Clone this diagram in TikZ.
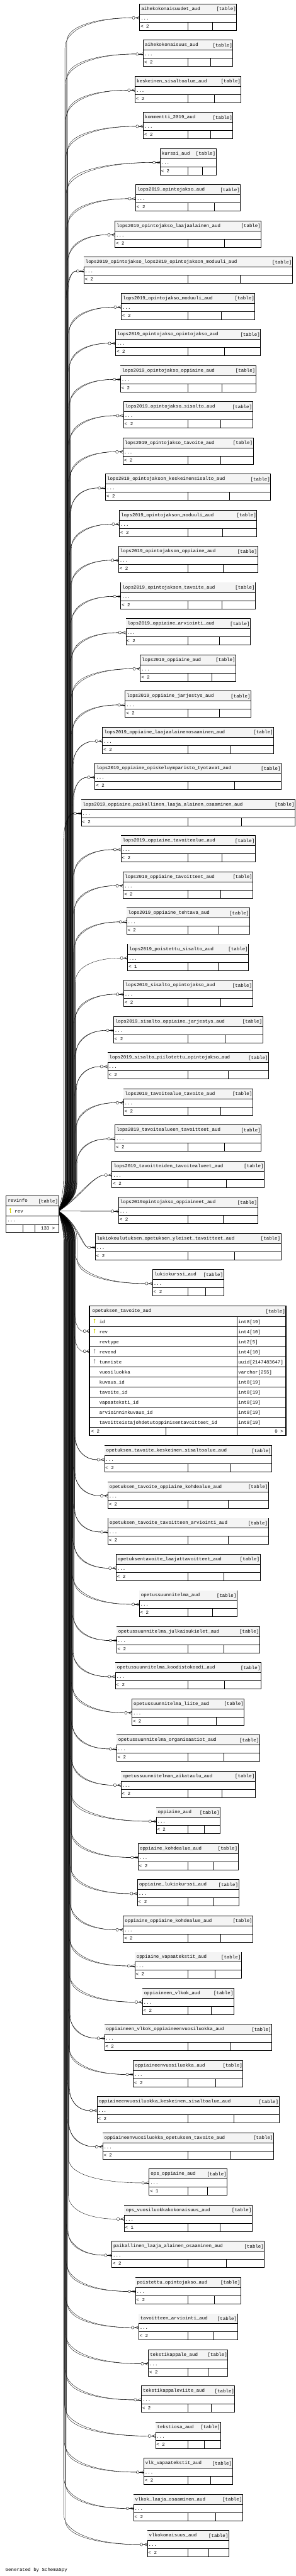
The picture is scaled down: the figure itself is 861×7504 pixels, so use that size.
\documentclass[tikz,border=0pt]{standalone}
\usepackage{fontspec}
\newfontfamily\tfont{Liberation Mono}
\usetikzlibrary{calc}
\definecolor{titlebg}{HTML}{F4F4F4}
\definecolor{keyyel}{HTML}{D4D400}
\definecolor{keygray}{HTML}{A0A0A0}
\tikzset{
 tbox/.style={draw=black,line width=1.1pt,fill=white,rectangle,inner sep=0pt,outer sep=0pt},
 tline/.style={draw=black,line width=0.9pt},
 ttext/.style={font=\tfont\fontsize{13.6}{16}\selectfont,inner sep=0pt,outer sep=0pt},
 fkline/.style={draw=black,line width=0.7pt},
}
\def\ry{3528}
\newcommand{\crowend}[3]{% #1 end coord, #2 port coord, #3 crow length
  \draw[fkline] (#1) -- (#2);
  \draw[fkline,fill=white] ($(#1)+(4,0)$) circle (4pt);
  \draw[fkline] ($(#2)+(-#3,0)$) -- ($(#2)+(0,-4.2)$) ($(#2)+(-#3,0)$) -- ($(#2)+(0,4.2)$);
}
\newcommand{\fkedge}[5]{% #1 end coord, #2 Tx, #3 Ty, #4 xv, #5 h2
  \pgfmathsetmacro{\fdd}{#3-\ry}%
  \pgfmathsetmacro{\fsg}{(\fdd<0) ? -1 : 1}%
  \pgfmathsetmacro{\fad}{abs(\fdd)}%
  \ifdim\fad pt<200pt
    \pgfmathsetmacro{\fcy}{\ry+0.3*\fdd}%
    \pgfmathsetmacro{\fcx}{#2-0.4*(#2-#4)}%
    \draw[fkline] (rec-p) .. controls (#4,\fcy) and (\fcx,#3) .. (#1);
  \else
    \pgfmathsetmacro{\fyp}{\ry+\fsg*35}%
    \pgfmathsetmacro{\fyq}{\ry+\fsg*55}%
    \pgfmathsetmacro{\fxp}{#4-6}%
    \pgfmathsetmacro{\fya}{\ry+\fsg*90}%
    \pgfmathsetmacro{\fyb}{#3-\fsg*#5}%
    \pgfmathsetmacro{\fyc}{#3-\fsg*#5*0.3}%
    \pgfmathsetmacro{\fcx}{#4+0.5*(#2-#4)}%
    \draw[fkline] (rec-p) .. controls (\fxp,\fyp) and (#4,\fyq) .. (#4,\fya) -- (#4,\fyb) .. controls (#4,\fyc) and (\fcx,#3) .. (#1);
  \fi
}
\newcommand{\keyicon}[3]{%
  \fill[#3] (#1,#2+2.8) circle (2.8pt);
  \fill[#3] (#1-0.9,#2+2.8) rectangle (#1+0.9,#2+14);
  \fill[#3] (#1,#2+10) rectangle (#1+2.4,#2+11.4);
}
\newcommand{\ctable}[5]{% name, top, half width, label, parents
  \pgfmathsetmacro{\xl}{547-#3}%
  \pgfmathsetmacro{\xr}{547+#3}%
  \pgfmathsetmacro{\xm}{547+#3/2}%
  \pgfmathsetmacro{\yt}{#2+28.6}%
  \pgfmathsetmacro{\yd}{#2+52.6}%
  \pgfmathsetmacro{\yf}{#2+76.7}%
  \pgfmathsetmacro{\yp}{#2+40.6}%
  \pgfmathsetmacro{\xe}{\xl-21.5}%
  \pgfmathsetmacro{\xva}{min(226-0.00923*min(abs(\yp-\ry),3900),\xe-25)}%
  \pgfmathsetmacro{\xvb}{\xva-5}%
  \coordinate (#1-p) at (\xl,\yp);
  \coordinate (#1-e) at (\xe,\yp);
  \fkedge{#1-e}{\xe}{\yp}{\xva}{70}%
  \ifnum#5=2 \fkedge{#1-e}{\xe}{\yp}{\xvb}{90}\fi
  \crowend{#1-e}{#1-p}{11}%
  \node[tbox,minimum width=2*#3,minimum height=76.7,anchor=north] (#1) at (547,#2) {};
  \fill[titlebg] (\xl+0.55,#2+0.55) rectangle (\xr-0.55,\yt);
  \draw[tline] (\xl,\yt) -- (\xr,\yt) (\xl,\yd) -- (\xr,\yd) (546,\yd) -- (546,\yf) (\xm,\yd) -- (\xm,\yf);
  \node[ttext,anchor=base west] (#1-n) at (\xl+5,#2+18) {#4};
  \node[ttext,anchor=base east] (#1-k) at (\xr-1.5,#2+19) {[table]};
  \node[ttext,anchor=base west] (#1-d) at (\xl+3,#2+45.7) {...};
  \node[ttext,anchor=base west] (#1-c) at (\xl+3,#2+69.4) {< #5};
}
\begin{document}
\begin{tikzpicture}[x=1pt,y=-1pt]
\useasboundingbox (0,0) rectangle (861,7504);
\fill[white] (0,0) rectangle (861,7504);
\coordinate (rec-p) at (170.3,\ry);
% edges to expanded table
\coordinate (ota-rev-p) at (258,3877.6);
\coordinate (ota-rev-e) at (242,3877.6);
\coordinate (ota-revend-p) at (258,3936.3);
\coordinate (ota-revend-e) at (242,3936.3);
\fkedge{ota-rev-e}{242}{3877.6}{217}{60}
\fkedge{ota-revend-e}{242}{3936.3}{214}{80}
\crowend{ota-rev-e}{ota-rev-p}{7}
\crowend{ota-revend-e}{ota-revend-p}{7}
% collapsed tables
\ctable{t0}{11.4}{141.0}{aihekokonaisuudet\_aud}{2}
\ctable{t1}{116.7}{130.3}{aihekokonaisuus\_aud}{2}
\ctable{t2}{222.1}{154.2}{keskeinen\_sisaltoalue\_aud}{2}
\ctable{t3}{327.4}{130.3}{kommentti\_2019\_aud}{2}
\ctable{t4}{432.8}{81.3}{kurssi\_aud}{2}
\ctable{t5}{538.1}{152.2}{lops2019\_opintojakso\_aud}{2}
\ctable{t6}{643.4}{212.7}{lops2019\_opintojakso\_laajaalainen\_aud}{2}
\ctable{t7}{748.8}{303.2}{lops2019\_opintojakso\_lops2019\_opintojakson\_moduuli\_aud}{2}
\ctable{t8}{854.1}{194.2}{lops2019\_opintojakso\_moduuli\_aud}{2}
\ctable{t9}{959.5}{210.6}{lops2019\_opintojakso\_opintojakso\_aud}{2}
\ctable{t10}{1064.8}{196.8}{lops2019\_opintojakso\_oppiaine\_aud}{2}
\ctable{t11}{1170.1}{187.5}{lops2019\_opintojakso\_sisalto\_aud}{2}
\ctable{t12}{1275.5}{189.2}{lops2019\_opintojakso\_tavoite\_aud}{2}
\ctable{t13}{1380.8}{240.2}{lops2019\_opintojakson\_keskeinensisalto\_aud}{2}
\ctable{t14}{1486.2}{199.8}{lops2019\_opintojakson\_moduuli\_aud}{2}
\ctable{t15}{1591.5}{202.2}{lops2019\_opintojakson\_oppiaine\_aud}{2}
\ctable{t16}{1696.8}{195.8}{lops2019\_opintojakson\_tavoite\_aud}{2}
\ctable{t17}{1802.2}{180.9}{lops2019\_oppiaine\_arviointi\_aud}{2}
\ctable{t18}{1907.5}{139.0}{lops2019\_oppiaine\_aud}{2}
\ctable{t19}{2012.9}{182.9}{lops2019\_oppiaine\_jarjestys\_aud}{2}
\ctable{t20}{2118.2}{248.8}{lops2019\_oppiaine\_laajaalainenosaaminen\_aud}{2}
\ctable{t21}{2223.5}{270.9}{lops2019\_oppiaine\_opiskeluymparisto\_tyotavat\_aud}{2}
\ctable{t22}{2328.9}{311.0}{lops2019\_oppiaine\_paikallinen\_laaja\_alainen\_osaaminen\_aud}{2}
\ctable{t23}{2434.2}{195.2}{lops2019\_oppiaine\_tavoitealue\_aud}{2}
\ctable{t24}{2539.6}{188.6}{lops2019\_oppiaine\_tavoitteet\_aud}{2}
\ctable{t25}{2644.9}{178.9}{lops2019\_oppiaine\_tehtava\_aud}{2}
\ctable{t26}{2750.2}{175.7}{lops2019\_poistettu\_sisalto\_aud}{1}
\ctable{t27}{2855.6}{187.5}{lops2019\_sisalto\_opintojakso\_aud}{2}
\ctable{t28}{2960.9}{216.7}{lops2019\_sisalto\_oppiaine\_jarjestys\_aud}{2}
\ctable{t29}{3066.3}{233.9}{lops2019\_sisalto\_piilotettu\_opintojakso\_aud}{2}
\ctable{t30}{3171.6}{188.0}{lops2019\_tavoitealue\_tavoite\_aud}{2}
\ctable{t31}{3276.9}{212.7}{lops2019\_tavoitealueen\_tavoitteet\_aud}{2}
\ctable{t32}{3382.3}{221.3}{lops2019\_tavoitteiden\_tavoitealueet\_aud}{2}
\ctable{t33}{3487.6}{202.2}{lops2019opintojakso\_oppiaineet\_aud}{2}
\ctable{t34}{3593.0}{269.9}{lukiokoulutuksen\_opetuksen\_yleiset\_tavoitteet\_aud}{2}
\ctable{t35}{3698.3}{103.0}{lukiokurssi\_aud}{2}
\ctable{t37}{4211.4}{243.2}{opetuksen\_tavoite\_keskeinen\_sisaltoalue\_aud}{2}
\ctable{t38}{4316.7}{233.5}{opetuksen\_tavoite\_oppiaine\_kohdealue\_aud}{2}
\ctable{t39}{4422.1}{233.1}{opetuksen\_tavoite\_tavoitteen\_arviointi\_aud}{2}
\ctable{t40}{4527.4}{209.4}{opetuksentavoite\_laajattavoitteet\_aud}{2}
\ctable{t41}{4632.8}{142.0}{opetussuunnitelma\_aud}{2}
\ctable{t42}{4738.1}{208.0}{opetussuunnitelma\_julkaisukielet\_aud}{2}
\ctable{t43}{4843.4}{211.6}{opetussuunnitelma\_koodistokoodi\_aud}{2}
\ctable{t44}{4948.8}{163.3}{opetussuunnitelma\_liite\_aud}{2}
\ctable{t45}{5054.1}{208.0}{opetussuunnitelma\_organisaatiot\_aud}{2}
\ctable{t46}{5159.5}{195.2}{opetussuunnitelman\_aikataulu\_aud}{2}
\ctable{t47}{5264.8}{92.8}{oppiaine\_aud}{2}
\ctable{t48}{5370.1}{145.2}{oppiaine\_kohdealue\_aud}{2}
\ctable{t49}{5475.5}{147.0}{oppiaine\_lukiokurssi\_aud}{2}
\ctable{t50}{5580.8}{188.6}{oppiaine\_oppiaine\_kohdealue\_aud}{2}
\ctable{t51}{5686.2}{154.8}{oppiaine\_vapaatekstit\_aud}{2}
\ctable{t52}{5791.5}{132.9}{oppiaineen\_vlkok\_aud}{2}
\ctable{t53}{5896.8}{243.2}{oppiaineen\_vlkok\_oppiaineenvuosiluokka\_aud}{2}
\ctable{t54}{6002.2}{159.4}{oppiaineenvuosiluokka\_aud}{2}
\ctable{t55}{6107.5}{264.5}{oppiaineenvuosiluokka\_keskeinen\_sisaltoalue\_aud}{2}
\ctable{t56}{6212.9}{248.6}{oppiaineenvuosiluokka\_opetuksen\_tavoite\_aud}{2}
\ctable{t57}{6318.2}{113.5}{ops\_oppiaine\_aud}{1}
\ctable{t58}{6423.5}{185.9}{ops\_vuosiluokkakokonaisuus\_aud}{1}
\ctable{t59}{6528.9}{221.9}{paikallinen\_laaja\_alainen\_osaaminen\_aud}{2}
\ctable{t60}{6634.2}{153.2}{poistettu\_opintojakso\_aud}{2}
\ctable{t61}{6739.6}{143.6}{tavoitteen\_arviointi\_aud}{2}
\ctable{t62}{6844.9}{115.5}{tekstikappale\_aud}{2}
\ctable{t63}{6950.2}{135.9}{tekstikappaleviite\_aud}{2}
\ctable{t64}{7055.6}{94.8}{tekstiosa\_aud}{2}
\ctable{t65}{7160.9}{128.9}{vlk\_vapaatekstit\_aud}{2}
\ctable{t66}{7266.3}{158.6}{vlkok\_laaja\_osaaminen\_aud}{2}
\ctable{t67}{7371.6}{118.3}{vlkokonaisuus\_aud}{2}
% expanded table
\node[draw=black,line width=3.5pt,fill=white,minimum width=572.5,minimum height=377.4,anchor=north west,inner sep=0pt,outer sep=0pt,rectangle] (ota) at (259.75,3804.15) {};
\fill[titlebg] (261.5,3805.9) rectangle (830.5,3835.1);
\foreach \i in {0,...,11}{\draw[tline] (261.5,3835.1+29.32*\i) -- (830.5,3835.1+29.32*\i);}
\draw[tline] (689,3835.1) -- (689,4179.8);
\draw[tline] (482.3,4157.6) -- (482.3,4179.8);
\node[ttext,anchor=base west] (ota-n) at (268.7,3823) {opetuksen\_tavoite\_aud};
\node[ttext,anchor=base east] (ota-k) at (829.7,3824) {[table]};
\foreach \i/\cn/\ct/\kk in {0/id/int8[19]/1,1/rev/int4[10]/1,2/revtype/int2[5]/0,3/revend/int4[10]/2,4/tunniste/uuid[2147483647]/2,5/vuosiluokka/varchar[255]/0,6/kuvaus\_id/int8[19]/0,7/tavoite\_id/int8[19]/0,8/vapaateksti\_id/int8[19]/0,9/arvioinninkuvaus\_id/int8[19]/0,10/tavoitteistajohdetutoppimisentavoitteet\_id/int8[19]/0}{
  \pgfmathsetmacro{\rt}{3835.1+29.32*\i}
  \node[ttext,anchor=base west] (ota-c\i) at (289,\rt+19.5) {\cn};
  \node[ttext,anchor=base west] (ota-t\i) at (693.4,\rt+19.5) {\ct};
  \ifnum\kk=1 \keyicon{275}{\rt+6}{keyyel}\fi
  \ifnum\kk=2 \keyicon{275}{\rt+6}{keygray}\fi
}
\node[ttext,anchor=base west] (ota-f1) at (265,4174) {< 2};
\node[ttext,anchor=base east] (ota-f3) at (824,4174) {0 >};
% revinfo table
\node[tbox,minimum width=153,minimum height=106,anchor=north west] (rec) at (17.3,3484) {};
\fill[titlebg] (17.85,3484.55) rectangle (169.75,3512.6);
\draw[tline] (17.3,3512.6) -- (170.3,3512.6) (17.3,3542.5) -- (170.3,3542.5) (17.3,3566.6) -- (170.3,3566.6) (66.3,3566.6) -- (66.3,3590) (101.3,3566.6) -- (101.3,3590);
\node[ttext,anchor=base west] (rec-n) at (23,3502.5) {revinfo};
\node[ttext,anchor=base east] (rec-k) at (168.5,3504) {[table]};
\keyicon{30}{3519.5}{keyyel}
\node[ttext,anchor=base west] (rec-r) at (43,3533) {rev};
\node[ttext,anchor=base west] (rec-d) at (21,3558.4) {...};
\node[ttext,anchor=base east] (rec-c) at (160,3582.5) {133 >};
\node[ttext,anchor=base west] (gen) at (16,7490) {Generated by SchemaSpy};
\end{tikzpicture}
\end{document}
